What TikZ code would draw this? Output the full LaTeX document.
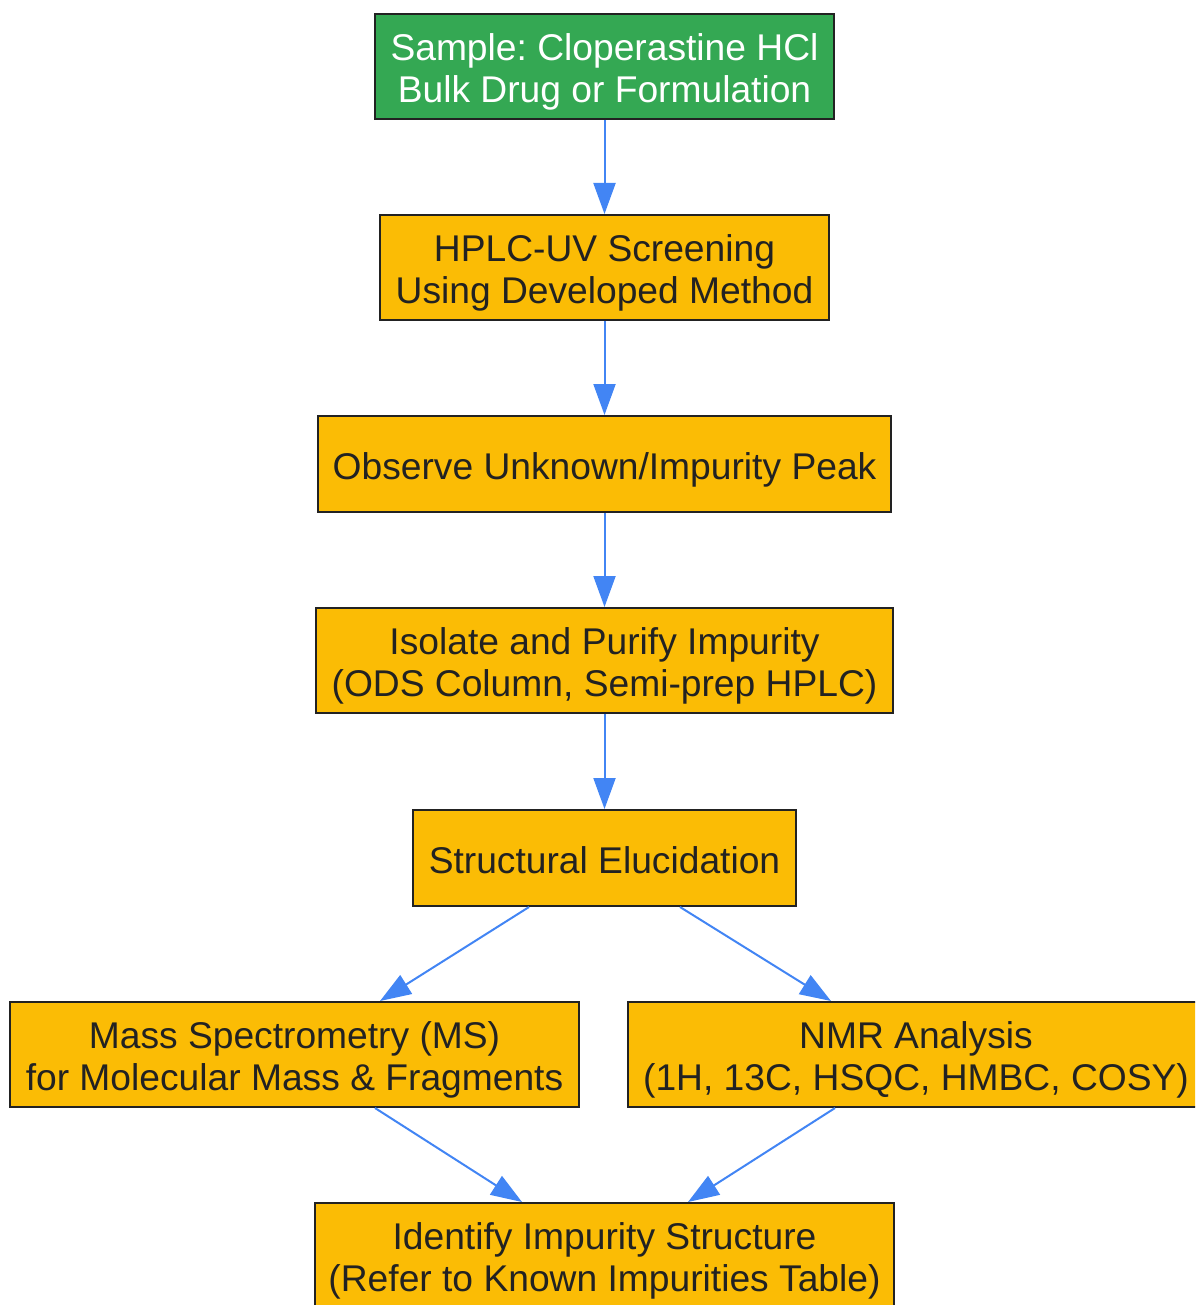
\documentclass[tikz,border=0pt]{standalone}
\usepackage{fontspec}
\setmainfont{Liberation Sans}
\usetikzlibrary{arrows.meta}
\frenchspacing
\definecolor{gfill}{HTML}{34A853}
\definecolor{yfill}{HTML}{FBBC05}
\definecolor{edgeblue}{HTML}{4285F4}
\definecolor{txt}{HTML}{222222}
\newcommand{\twoln}[2]{\vtop{\baselineskip=42pt\lineskiplimit=-20pt\halign{\hfil##\hfil\cr #1\cr #2\cr}}}
\begin{document}
\begin{tikzpicture}[x=1pt,y=-1pt,
  box/.style={draw=txt,line width=2pt,fill=yfill,text=txt,inner sep=0pt,
    font=\fontsize{37.2}{42}\selectfont\frenchspacing},
  gbox/.style={box,fill=gfill,text=white},
  oneline/.style={text height=30pt,text depth=0pt},
  twoline/.style={text height=30pt,text depth=42pt},
  conn/.style={draw=edgeblue,line width=2pt,-{Triangle[length=31pt,width=22pt]}}]
\useasboundingbox (0,0) rectangle (1195,1305);
\clip (0,0) rectangle (1195,1305);
\node[gbox,twoline,minimum width=459pt,minimum height=105pt] (a) at (604.5,66.5) {\twoln{Sample: Cloperastine HCl}{Bulk Drug or Formulation}};
\node[box,twoline,minimum width=449pt,minimum height=105pt] (b) at (604.5,267.5) {\twoln{HPLC-UV Screening}{Using Developed Method}};
\node[box,oneline,minimum width=573pt,minimum height=96pt] (c) at (604.5,464) {Observe Unknown/Impurity Peak};
\node[box,twoline,minimum width=577pt,minimum height=105pt] (d) at (604.5,660.5) {\twoln{Isolate and Purify Impurity}{(ODS Column, Semi-prep HPLC)}};
\node[box,oneline,minimum width=383pt,minimum height=96pt] (e) at (604.5,858) {Structural Elucidation};
\node[box,twoline,minimum width=569pt,minimum height=105pt] (f) at (294.5,1054.5) {\twoln{Mass Spectrometry (MS)}{for Molecular Mass \& Fragments}};
\node[box,twoline,minimum width=576pt,minimum height=105pt] (g) at (916,1054.5) {\twoln{NMR Analysis}{(1H, 13C, HSQC, HMBC, COSY)}};
\node[box,twoline,minimum width=579pt,minimum height=105pt] (h) at (604.5,1255.5) {\twoln{Identify Impurity Structure}{(Refer to Known Impurities Table)}};
\draw[conn] (a.south) -- (b.north);
\draw[conn] (b.south) -- (c.north);
\draw[conn] (c.south) -- (d.north);
\draw[conn] (d.south) -- (e.north);
\draw[conn] ([xshift=-75.5pt]e.south) -- ([xshift=85.5pt]f.north);
\draw[conn] ([xshift=75.5pt]e.south) -- ([xshift=-85pt]g.north);
\draw[conn] ([xshift=80.5pt]f.south) -- ([xshift=-82.5pt]h.north);
\draw[conn] ([xshift=-81pt]g.south) -- ([xshift=83.5pt]h.north);
\end{tikzpicture}
\end{document}
